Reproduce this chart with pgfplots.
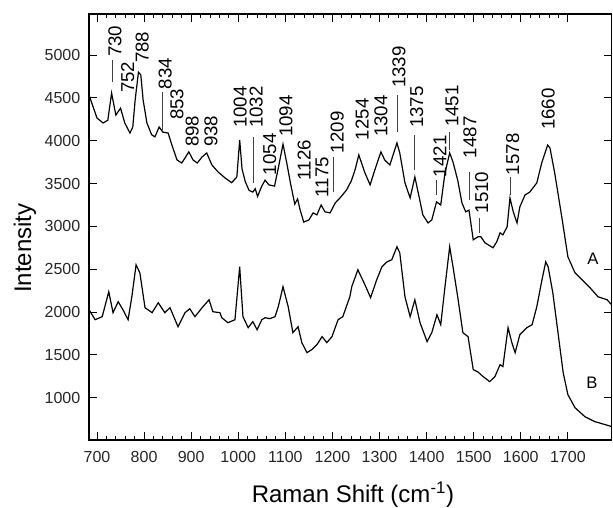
\documentclass[border=0pt]{standalone}
\usepackage{fontspec}
\setmainfont{Liberation Sans}
\usepackage{pgfplots}
\pgfplotsset{compat=1.18}

\pgfplotstableread{
x y
683 4534
700 4265
713 4207
723 4240
731 4557
740 4300
750 4380
759 4207
770 4090
776 4160
781 4475
788 4800
793 4770
798 4475
806 4207
816 4070
823 4045
832 4160
840 4100
851 4090
859 3950
870 3775
880 3740
887 3800
895 3870
904 3775
913 3740
923 3810
933 3857
944 3717
957 3636
972 3565
986 3510
997 3577
1003 4009
1008 3670
1015 3520
1023 3420
1031 3400
1036 3440
1041 3350
1050 3470
1057 3540
1065 3485
1077 3470
1085 3680
1095 3960
1103 3740
1111 3500
1120 3260
1126 3320
1131 3200
1139 3050
1150 3075
1159 3157
1167 3134
1176 3250
1184 3170
1195 3157
1206 3274
1216 3332
1230 3425
1240 3530
1248 3659
1256 3834
1269 3624
1280 3485
1290 3659
1303 3870
1311 3775
1322 3717
1337 3974
1343 3857
1354 3508
1365 3332
1375 3577
1384 3345
1392 3134
1403 3040
1411 3075
1421 3286
1430 3250
1439 3624
1449 3857
1456 3752
1466 3540
1475 3274
1483 3170
1490 3190
1499 2843
1509 2878
1515 2880
1524 2808
1541 2750
1549 2820
1556 2925
1562 2901
1571 2995
1577 3332
1584 3170
1592 3040
1598 3228
1609 3367
1619 3400
1634 3508
1645 3752
1657 3950
1662 3915
1672 3624
1687 3111
1700 2645
1715 2458
1730 2376
1747 2283
1764 2178
1783 2143
1793 2085
}\spectrumA

\pgfplotstableread{
x y
683 2027
696 1910
711 1945
725 2237
734 1992
745 2120
755 2027
766 1910
774 2178
783 2551
791 2458
802 2050
817 1992
830 2108
844 1992
855 2050
872 1828
887 1992
897 2038
908 1945
925 2062
938 2143
946 2003
961 1992
965 1933
978 1875
993 1910
1003 2528
1010 1945
1021 1817
1031 1887
1040 1793
1050 1910
1057 1933
1067 1922
1078 1945
1085 2062
1095 2295
1106 2062
1116 1759
1127 1828
1135 1642
1146 1525
1156 1560
1167 1618
1178 1712
1188 1642
1199 1712
1212 1910
1222 1945
1237 2178
1241 2295
1254 2493
1269 2318
1281 2167
1294 2376
1305 2528
1316 2586
1326 2610
1337 2762
1343 2691
1354 2178
1365 1945
1375 2143
1386 1875
1401 1654
1411 1759
1422 1968
1430 1852
1439 2295
1449 2762
1456 2528
1466 2178
1477 1759
1488 1712
1499 1327
1509 1300
1520 1245
1534 1187
1545 1245
1556 1385
1562 1362
1573 1817
1581 1642
1588 1525
1598 1735
1613 1817
1624 1852
1634 2062
1645 2376
1653 2586
1658 2528
1668 2225
1679 1759
1690 1292
1700 1035
1715 883
1736 778
1757 720
1779 685
1793 662
}\spectrumB

\begin{document}
\begin{tikzpicture}
\path[use as bounding box] (-66.75pt,-50.25pt) rectangle (393pt,330pt);
\begin{axis}[
    at={(0,0)}, anchor=south west,
    scale only axis,
    width=392pt, height=319.5pt,
    xmin=683, xmax=1793,
    ymin=505, ymax=5480,
    xtick={700,800,...,1700},
    ytick={1000,1500,...,5000},
    minor x tick num=4,
    xtick pos=both, ytick pos=both,
    xticklabel pos=lower, yticklabel pos=left,
    tick align=inside,
    major tick length=6pt, minor tick length=3pt,
    every tick/.style={black, line width=0.7pt},
    axis line style={line width=0.8pt},
    /pgf/number format/1000 sep={},
    /pgf/number format/assume math mode=true,
    tick label style={font=\fontsize{12}{14}\selectfont, text=black!85},
    yticklabel style={xshift=-3pt},
    xticklabel style={yshift=-5pt},
    xlabel={Raman Shift (cm\textsuperscript{-1})},
    ylabel={Intensity},
    label style={font=\fontsize{18}{21}\selectfont},
    xlabel style={at={(rel axis cs:0.505,-0.1283)}, anchor=center},
    ylabel style={at={(rel axis cs:-0.1224,0.45)}, anchor=center},
    clip=true,
]
\addplot[black, line width=0.9pt] table[x=x,y=y] {\spectrumA};
\addplot[black, line width=0.9pt] table[x=x,y=y] {\spectrumB};

% peak labels
\begin{scope}[every node/.style={rotate=90, anchor=west, inner sep=0pt, font=\fontsize{14}{16}\selectfont}]
\node at (axis cs:738,4977) {730};
\node at (axis cs:765,4555) {752};
\node at (axis cs:796,4906) {788};
\node at (axis cs:845,4600) {834};
\node at (axis cs:870,4240) {853};
\node at (axis cs:902,3924) {898};
\node at (axis cs:942,3924) {938};
\node at (axis cs:1004,4146) {1004};
\node at (axis cs:1038,4146) {1032};
\node at (axis cs:1067,3596) {1054};
\node at (axis cs:1101,4041) {1094};
\node at (axis cs:1140,3538) {1126};
\node at (axis cs:1178,3339) {1175};
\node at (axis cs:1210,3853) {1209};
\node at (axis cs:1263,4005) {1254};
\node at (axis cs:1303,4041) {1304};
\node at (axis cs:1341,4614) {1339};
\node at (axis cs:1379,4146) {1375};
\node at (axis cs:1428,3573) {1421};
\node at (axis cs:1454,4158) {1451};
\node at (axis cs:1492,3795) {1487};
\node at (axis cs:1517,3151) {1510};
\node at (axis cs:1583,3596) {1578};
\node at (axis cs:1658,4123) {1660};
\end{scope}

% leader lines
\begin{scope}[black!75, line width=0.6pt]
\draw (axis cs:733,4942) -- (axis cs:733,4684);
\draw (axis cs:838,4567) -- (axis cs:838,4130);
\draw (axis cs:1033,4041) -- (axis cs:1033,3502);
\draw (axis cs:1203,3807) -- (axis cs:1203,3397);
\draw (axis cs:1339,4532) -- (axis cs:1339,4099);
\draw (axis cs:1375,4064) -- (axis cs:1375,3654);
\draw (axis cs:1420,3538) -- (axis cs:1420,3362);
\draw (axis cs:1448,4099) -- (axis cs:1448,3889);
\draw (axis cs:1490,3631) -- (axis cs:1490,3303);
\draw (axis cs:1513,3093) -- (axis cs:1513,2917);
\draw (axis cs:1577,3573) -- (axis cs:1577,3362);
\end{scope}

\node[font=\fontsize{12.5}{14}\selectfont] at (axis cs:1753,2625) {A};
\node[font=\fontsize{12.5}{14}\selectfont] at (axis cs:1751,1174) {B};
\end{axis}
\end{tikzpicture}
\end{document}
